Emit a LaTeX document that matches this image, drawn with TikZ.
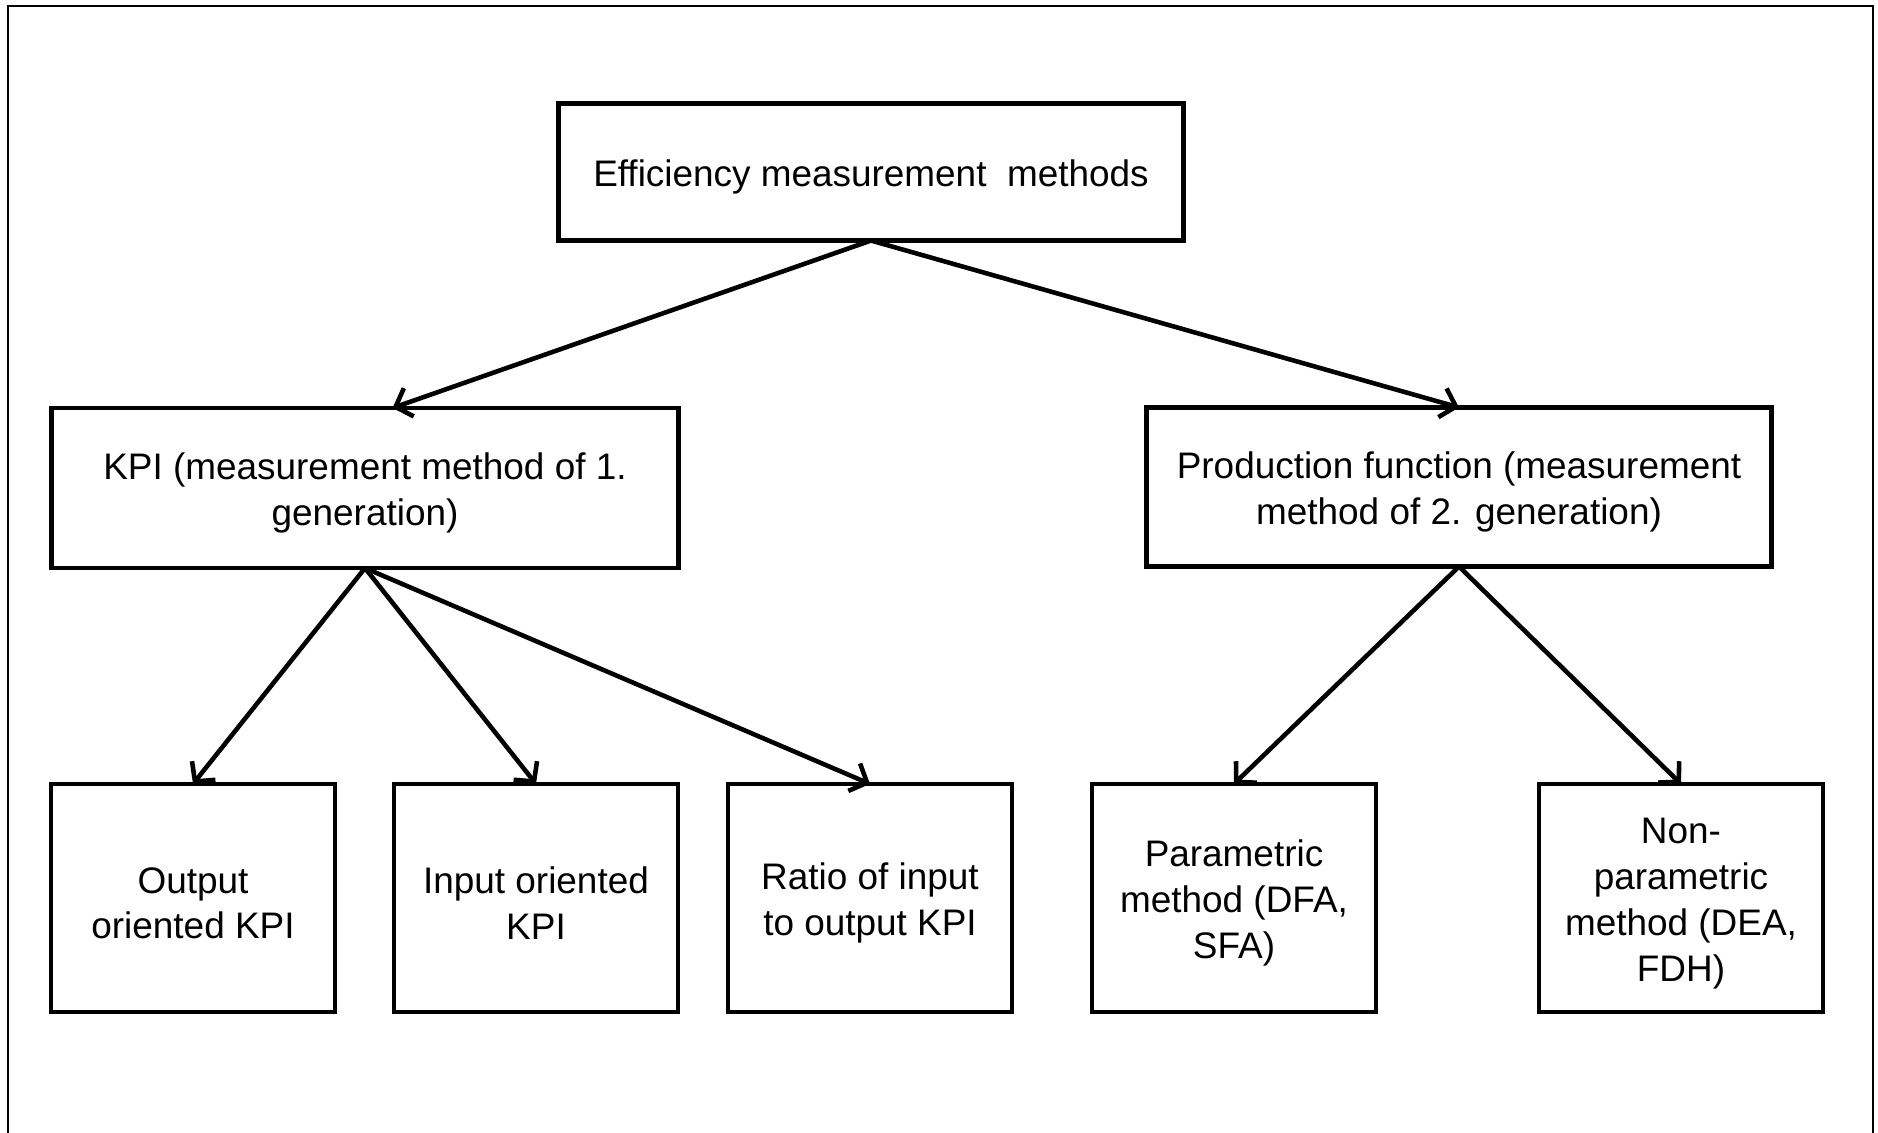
\documentclass[tikz,border=0pt]{standalone}
\usepackage{fontspec}
\setmainfont{Liberation Sans}
\usetikzlibrary{arrows.meta}
\newcommand{\topstrut}{\rule{0pt}{10.4pt}}

\begin{document}
\begin{tikzpicture}[x=0.01cm, y=-0.01cm,
	every node/.style={font=\fontsize{10.5}{13}\selectfont, align=center},
	box/.style={draw, line width=1.35pt, inner sep=0pt, outer sep=0pt},
	link/.style={line width=1.3pt, -{Straight Barb[length=4pt, width=8.5pt, line width=1.3pt]}}]
	\useasboundingbox (0,0) rectangle (1878,1133);
	\draw[line width=0.4pt] (8,1140) -- (8,6) -- (1873,6) -- (1873,1140);
	\node[box, minimum width=6.25cm, minimum height=1.37cm] (eff) at (871,172) {\topstrut Efficiency measurement \ methods};
	\node[box, minimum width=6.27cm, minimum height=1.6cm] (kpi) at (365,488) {\topstrut KPI (measurement method of 1.\\generation)};
	\node[box, minimum width=6.25cm, minimum height=1.59cm] (prod) at (1459,487) {\topstrut Production function (measurement\\method of 2. generation)};
	\node[box, minimum width=2.84cm, minimum height=2.28cm] (out) at (193,898) {\topstrut Output\\oriented KPI};
	\node[box, minimum width=2.84cm, minimum height=2.28cm] (in) at (536,898) {\topstrut Input oriented\\KPI};
	\node[box, minimum width=2.84cm, minimum height=2.28cm] (ratio) at (870,898) {\topstrut Ratio of input\\to output KPI};
	\node[box, minimum width=2.84cm, minimum height=2.28cm] (par) at (1234,898) {\topstrut Parametric\\method (DFA,\\SFA)};
	\node[box, minimum width=2.84cm, minimum height=2.28cm] (npar) at (1681,898) {\topstrut Non-\\parametric\\method (DEA,\\FDH)};
	\draw[link] (eff.south) -- (kpi.71);
	\draw[link] (eff.south) -- (prod.north);
	\foreach \b in {out,in,ratio} {\draw[link] (kpi.south) -- (\b.north);}
	\foreach \b in {par,npar} {\draw[link] (prod.south) -- (\b.north);}
\end{tikzpicture}
\end{document}
